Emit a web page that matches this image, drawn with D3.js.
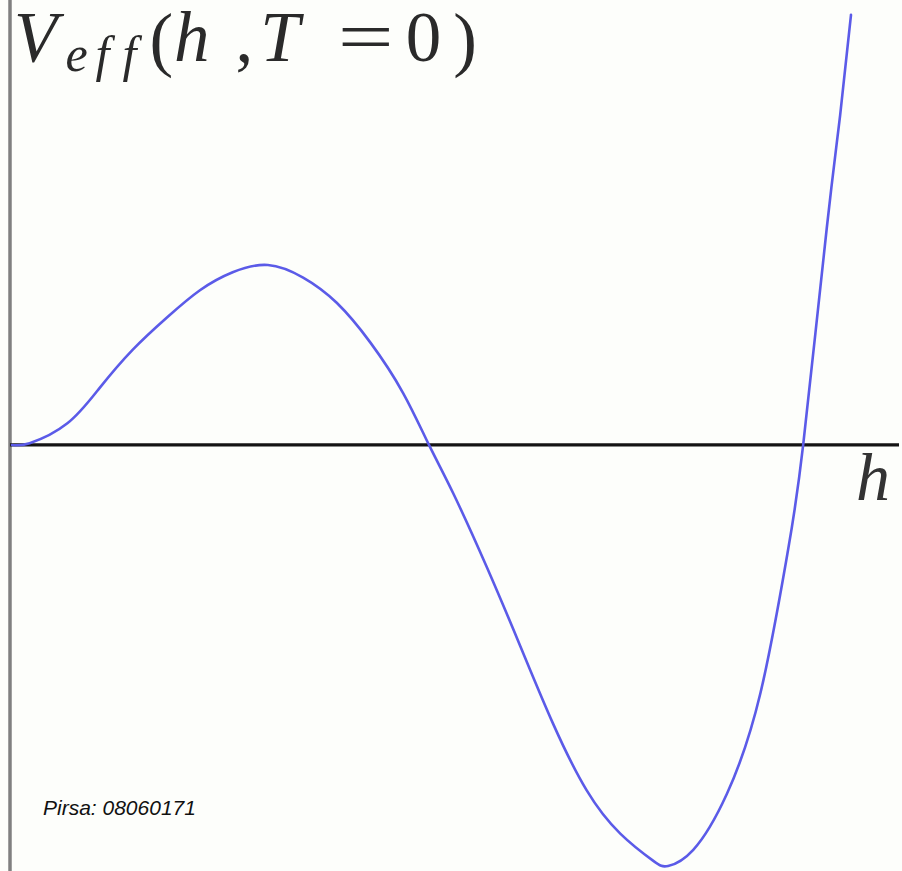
<!DOCTYPE html>
<html>
<head>
<meta charset="utf-8">
<script src="https://cdn.jsdelivr.net/npm/d3@7"></script>
<style>
  html, body { margin: 0; padding: 0; background: #fdfefb; }
  svg { display: block; }
</style>
</head>
<body>
<script>
// Effective potential at zero temperature, sampled along h
const hValues = [0, 0.21, 0.66, 1.05, 1.44, 1.85, 2.24, 2.63, 3.05, 3.47, 3.87, 4.27, 4.66, 4.97,
                 5.26, 5.66, 6.06, 6.45, 6.85, 7.25, 7.64, 7.82, 8.12, 8.52, 8.92, 9.24, 9.43, 9.71, 9.87, 10];
const vValues = [0, 0.01, 0.12, 0.32, 0.53, 0.71, 0.86, 0.96, 1.0, 0.93, 0.79, 0.57, 0.29, 0,
                 -0.27, -0.68, -1.12, -1.55, -1.92, -2.16, -2.31, -2.34, -2.25, -1.94, -1.38, -0.61, 0, 1.20, 1.83, 2.39];
const hDomain = [0, 10];
const vDomain = [-2.34, 1.0];
const axisLabel = "h";
const footnote = "Pirsa: 08060171";

const W = 902, H = 871;
const svg = d3.select("body").append("svg").attr("width", W).attr("height", H);

const x = d3.scaleLinear().domain(hDomain).range([12, 851]);
const y = d3.scaleLinear().domain(vDomain).range([866, 265]);

// vertical axis
svg.append("line")
  .attr("x1", 10).attr("x2", 10).attr("y1", 0).attr("y2", H)
  .attr("stroke", "#808080").attr("stroke-width", 3.5);

// horizontal axis (V = 0)
svg.append("line")
  .attr("x1", 10).attr("x2", 899).attr("y1", y(0)).attr("y2", y(0))
  .attr("stroke", "#141414").attr("stroke-width", 3.2);

// potential curve
const pts = hValues.map((h, i) => [h, vValues[i]]);
svg.append("path")
  .datum(pts)
  .attr("fill", "none")
  .attr("stroke", "#5b5be8")
  .attr("stroke-width", 2.6)
  .attr("stroke-linecap", "round")
  .attr("d", d3.line().x(d => x(d[0])).y(d => y(d[1])).curve(d3.curveNatural));

// axis title V_eff(h, T = 0), flowing text with math-style spacing
const serif = "'Liberation Serif', 'Times New Roman', serif";
const titleGlyphs = [
  { t: "V", dx: 0, dy: 0, size: 71, italic: true },
  { t: "e", dx: 8, dy: 10, size: 50, italic: true },
  { t: "f", dx: 8, dy: 0, size: 50, italic: true },
  { t: "f", dx: 13, dy: 0, size: 50, italic: true },
  { t: "(", dx: 13, dy: -8, size: 71, italic: false },
  { t: "h", dx: 1, dy: -2, size: 71, italic: true },
  { t: ",", dx: 26, dy: 0, size: 71, italic: false },
  { t: "T", dx: 7, dy: 0, size: 71, italic: true },
  { t: "=", dx: 38, dy: 0, size: 71, italic: false, len: 56 },
  { t: "0", dx: 12, dy: 0, size: 71, italic: false },
  { t: ")", dx: 12, dy: 2, size: 71, italic: false }
];
const title = svg.append("text")
  .attr("x", 14).attr("y", 61)
  .attr("fill", "#2a2a2a").attr("font-family", serif);
titleGlyphs.forEach(g => {
  const ts = title.append("tspan")
    .attr("dx", g.dx).attr("dy", g.dy)
    .attr("font-size", g.size)
    .attr("font-style", g.italic ? "italic" : "normal")
    .text(g.t);
  if (g.len) ts.attr("textLength", g.len).attr("lengthAdjust", "spacingAndGlyphs");
});

// h label
svg.append("text")
  .attr("x", 856).attr("y", 500)
  .attr("font-family", serif).attr("font-style", "italic")
  .attr("font-size", 68).attr("fill", "#333")
  .text(axisLabel);

// footnote
svg.append("text")
  .attr("x", 43).attr("y", 815)
  .attr("font-family", "'Liberation Sans', Arial, sans-serif")
  .attr("font-style", "italic").attr("font-size", 21).attr("fill", "#111")
  .text(footnote);
</script>
</body>
</html>
